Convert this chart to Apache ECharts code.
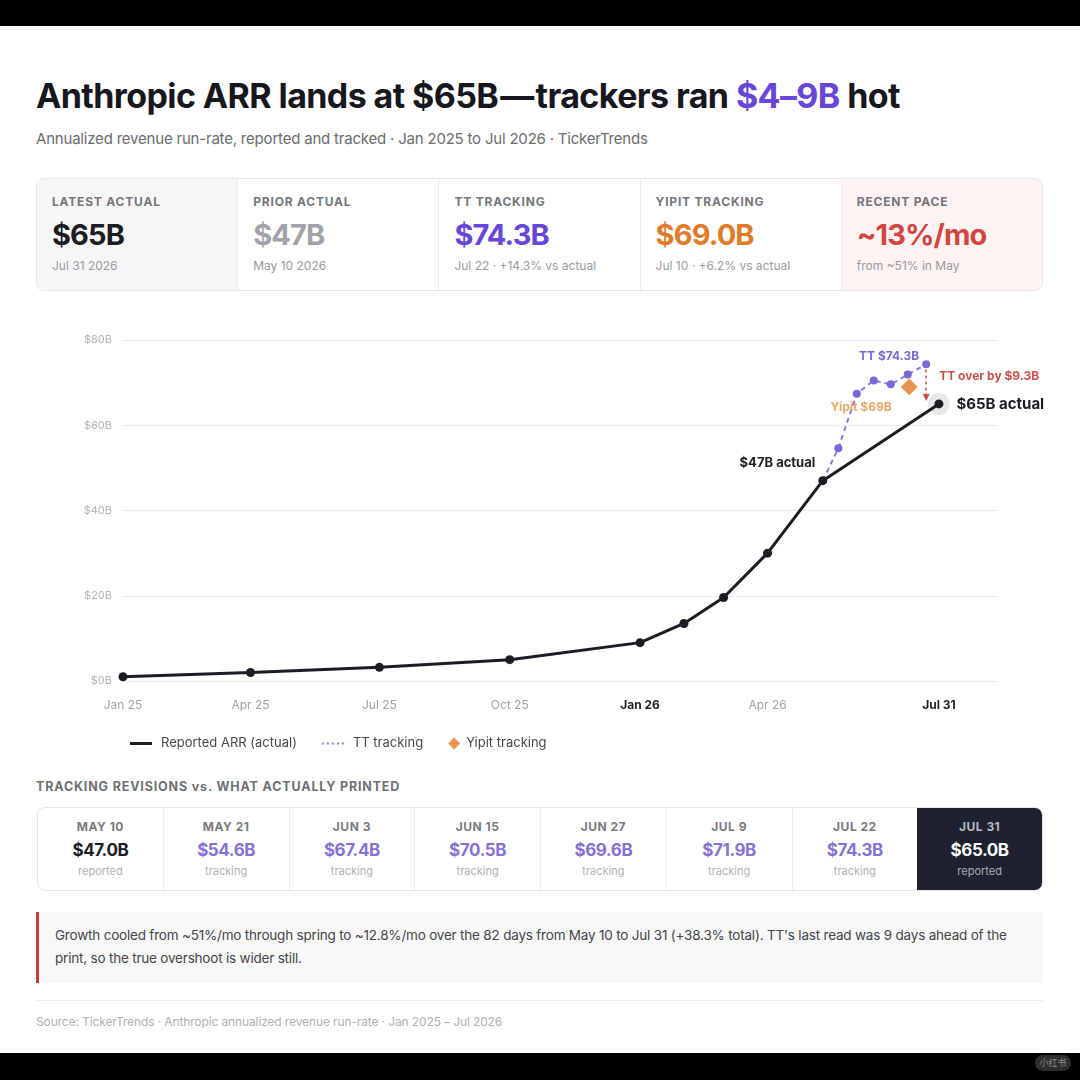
<!DOCTYPE html>
<html>
<head>
<meta charset="utf-8">
<script src="https://cdn.jsdelivr.net/npm/echarts@6/dist/echarts.min.js"></script>
<style>
  html, body { margin:0; padding:0; }
  body { width:1080px; height:1080px; background:#ffffff; position:relative; overflow:hidden;
         font-family: Inter, "Liberation Sans", "Noto Sans", sans-serif; color:#1c1c24; }
  .abs { position:absolute; }
  .bar-top { left:0; top:0; width:1080px; height:26px; background:#000; }
  .bar-bot { left:0; top:1053px; width:1080px; height:27px; background:#000; }
  .wm { left:1035px; top:1055px; width:36px; height:16px; border-radius:8px; background:#2e2e2e;
        color:#8a8a8a; font-size:9px; line-height:16px; text-align:center; font-family:"Noto Sans CJK SC", sans-serif; }
  .title { left:36px; top:76px; font-size:34px; line-height:40px; font-weight:700; letter-spacing:-0.6px; white-space:nowrap; color:#17171f; }
  .title .hl { color:#6647d8; }
  .subtitle { left:36px; top:129px; font-size:15px; line-height:20px; letter-spacing:-0.2px; color:#6b6b70; white-space:nowrap; }
  .kpis { left:36px; top:178px; width:1007px; height:113px; border:1px solid #e6e6e8; border-radius:8px;
          box-sizing:border-box; display:flex; overflow:hidden; }
  .kpi { flex:1; position:relative; border-left:1px solid #ececee; }
  .kpi:first-child { border-left:none; background:#f6f6f7; }
  .kpi:last-child { background:#fdf3f2; }
  .kpi .lab { position:absolute; left:15px; top:15px; font-size:12px; line-height:16px; font-weight:700; letter-spacing:0.8px; color:#76767c; white-space:nowrap; }
  .kpi .val { position:absolute; left:15px; top:39px; font-size:29px; line-height:34px; font-weight:700; letter-spacing:-0.9px; white-space:nowrap; }
  .kpi .sub { position:absolute; left:15px; top:79px; font-size:12px; line-height:16px; color:#9a9aa0; white-space:nowrap; }
  #chart { left:0; top:320px; width:1080px; height:450px; }
  .sect { left:36px; top:779px; font-size:12.5px; line-height:16px; font-weight:700; letter-spacing:0.85px; color:#6f6f74; white-space:nowrap; }
  .revs { left:37px; top:807px; width:1006px; height:84px; border:1px solid #e6e6e8; border-radius:8px;
          box-sizing:border-box; display:flex; overflow:hidden; }
  .rev { flex:1; position:relative; border-left:1px solid #ececee; text-align:center; }
  .rev:first-child { border-left:none; }
  .rev .d { position:absolute; left:0; right:0; top:11px; font-size:12px; line-height:16px; font-weight:700; letter-spacing:0.5px; color:#7a7a80; }
  .rev .v { position:absolute; left:0; right:0; top:31px; font-size:17px; line-height:22px; font-weight:700; letter-spacing:-0.4px; }
  .rev .k { position:absolute; left:0; right:0; top:56px; font-size:11px; line-height:14px; color:#b2b2b8; }
  .rev.dark { background:#1d2130; border-left:none; }
  .rev.dark .d { color:#b8bac2; }
  .rev.dark .v { color:#ffffff; }
  .rev.dark .k { color:#a9acb5; }
  .note { left:36px; top:912px; width:1007px; height:71px; background:#f8f8f9; border-left:3px solid #c2403a;
          box-sizing:border-box; padding:12px 0 0 16px; font-size:13.5px; line-height:23px; letter-spacing:-0.2px; color:#45454b; white-space:nowrap; }
  .divider { left:36px; top:1000px; width:1007px; height:1px; background:#ededef; }
  .foot { left:36px; top:1014px; font-size:12px; line-height:16px; letter-spacing:-0.12px; color:#b0b0b6; white-space:nowrap; }
</style>
</head>
<body>
<div class="abs bar-top"></div>
<div class="abs title">Anthropic ARR lands at $65B<span style="margin:0 2px">—</span>trackers ran <span class="hl">$4–9B</span> hot</div>
<div class="abs subtitle">Annualized revenue run-rate, reported and tracked · Jan 2025 to Jul 2026 · TickerTrends</div>
<div class="abs kpis" id="kpis"></div>
<div class="abs" id="chart"></div>
<div class="abs sect">TRACKING REVISIONS vs. WHAT ACTUALLY PRINTED</div>
<div class="abs revs" id="revs"></div>
<div class="abs note">Growth cooled from ~51%/mo through spring to ~12.8%/mo over the 82 days from May 10 to Jul 31 (+38.3% total). TT's last read was 9 days ahead of the<br>print, so the true overshoot is wider still.</div>
<div class="abs divider"></div>
<div class="abs foot">Source: TickerTrends · Anthropic annualized revenue run-rate · Jan 2025 – Jul 2026</div>
<div class="abs bar-bot"></div>
<div class="abs wm">小红书</div>

<script>
// ---------- data ----------
const actualDates  = ['2025-01-01','2025-04-01','2025-07-01','2025-10-01','2026-01-01','2026-02-01','2026-03-01','2026-04-01','2026-05-10','2026-07-31'];
const actualValues = [1.0, 2.0, 3.2, 5.0, 9.0, 13.5, 19.6, 30.0, 47.0, 65.0];

const ttDates  = ['2026-05-10','2026-05-21','2026-06-03','2026-06-15','2026-06-27','2026-07-09','2026-07-22'];
const ttValues = [47.0, 54.6, 67.4, 70.5, 69.6, 71.9, 74.3];

const yipitDates  = ['2026-07-10'];
const yipitValues = [69.0];

const xTickDates  = ['2025-01-01','2025-04-01','2025-07-01','2025-10-01','2026-01-01','2026-04-01','2026-07-31'];
const xTickLabels = ['Jan 25','Apr 25','Jul 25','Oct 25','Jan 26','Apr 26','Jul 31'];
const xBoldLabels = ['Jan 26','Jul 31'];
const xAxisStart = '2025-01-01';
const xAxisEnd   = '2026-09-10';
const yTicks = [0, 20, 40, 60, 80];

const kpiLabels = ['LATEST ACTUAL','PRIOR ACTUAL','TT TRACKING','YIPIT TRACKING','RECENT PACE'];
const kpiValues = ['$65B','$47B','$74.3B','$69.0B','~13%/mo'];
const kpiNotes  = ['Jul 31 2026','May 10 2026','Jul 22 · +14.3% vs actual','Jul 10 · +6.2% vs actual','from ~51% in May'];
const kpiColors = ['#1c1c24','#a2a2aa','#6647d8','#e07b2a','#d2463f'];

const revDates  = ['MAY 10','MAY 21','JUN 3','JUN 15','JUN 27','JUL 9','JUL 22','JUL 31'];
const revValues = [47.0, 54.6, 67.4, 70.5, 69.6, 71.9, 74.3, 65.0];
const revKinds  = ['reported','tracking','tracking','tracking','tracking','tracking','tracking','reported'];

// ---------- html parts ----------
const kpiBox = document.getElementById('kpis');
kpiLabels.forEach((l, i) => {
  const c = document.createElement('div');
  c.className = 'kpi';
  c.innerHTML = '<div class="lab">' + l + '</div><div class="val" style="color:' + kpiColors[i] + '">' + kpiValues[i] +
                '</div><div class="sub">' + kpiNotes[i] + '</div>';
  kpiBox.appendChild(c);
});
const revBox = document.getElementById('revs');
revDates.forEach((d, i) => {
  const c = document.createElement('div');
  const last = i === revDates.length - 1;
  c.className = 'rev' + (last ? ' dark' : '');
  const col = revKinds[i] === 'reported' ? '#1c1c24' : '#8672d4';
  c.innerHTML = '<div class="d">' + d + '</div><div class="v" style="' + (last ? '' : 'color:' + col) + '">$' +
                revValues[i].toFixed(1) + 'B</div><div class="k">' + revKinds[i] + '</div>';
  revBox.appendChild(c);
});

// ---------- chart ----------
const dayOf = s => (Date.parse(s + 'T00:00:00Z') - Date.parse(xAxisStart + 'T00:00:00Z')) / 864e5;
const xTickDays = xTickDates.map(dayOf);
const fmtB = v => '$' + v + 'B';

const actualN = actualValues.length;
const lastActual = actualValues[actualN - 1];
const lastTT = ttValues[ttValues.length - 1];
const lastTTDay = dayOf(ttDates[ttDates.length - 1]);

const actualData = actualDates.map((d, i) => {
  const item = { value: [dayOf(d), actualValues[i]] };
  if (d === '2026-05-10') {
    item.label = { show: true, position: 'left', offset: [2, -18], formatter: fmtB(actualValues[i]) + ' actual',
                   fontSize: 13, fontWeight: 700, color: '#222228' };
  }
  if (i === actualN - 1) {
    item.label = { show: true, position: 'right', offset: [8, 1], formatter: fmtB(actualValues[i]) + ' actual',
                   fontSize: 15, fontWeight: 700, color: '#1c1c24' };
  }
  return item;
});

const ttData = ttDates.map((d, i) => {
  const item = { value: [dayOf(d), ttValues[i]] };
  if (i === 0) item.symbol = 'none';
  if (i === ttDates.length - 1) {
    item.label = { show: true, position: 'top', offset: [-37, 7], formatter: 'TT ' + fmtB(ttValues[i]),
                   fontSize: 12, fontWeight: 700, color: '#7a68d8' };
  }
  return item;
});

const yipitData = yipitDates.map((d, i) => ({
  value: [dayOf(d), yipitValues[i]],
  label: { show: true, position: 'left', offset: [-4, 21], formatter: 'Yipit $' + yipitValues[i] + 'B',
           fontSize: 12, fontWeight: 700, color: '#e2923e' }
}));

const chart = echarts.init(document.getElementById('chart'), null, { renderer: 'canvas' });
chart.setOption({
  animation: false,
  textStyle: { fontFamily: 'Inter, "Liberation Sans", sans-serif' },
  grid: { left: 123, right: 83, top: 20, bottom: 89 },
  xAxis: {
    type: 'value', min: 0, max: dayOf(xAxisEnd),
    axisLine: { show: false }, axisTick: { show: false }, splitLine: { show: false },
    axisLabel: {
      customValues: xTickDays,
      margin: 18, fontSize: 12, color: '#a0a0a6',
      formatter: v => {
        const t = xTickLabels[xTickDays.indexOf(v)];
        if (t === undefined) return '';
        return xBoldLabels.includes(t) ? '{b|' + t + '}' : t;
      },
      rich: { b: { fontSize: 12, fontWeight: 700, color: '#222228' } }
    }
  },
  yAxis: {
    type: 'value', min: yTicks[0], max: yTicks[yTicks.length - 1], interval: yTicks[1] - yTicks[0],
    axisLine: { show: false }, axisTick: { show: false },
    splitLine: { lineStyle: { color: '#ececee', width: 1 } },
    axisLabel: { formatter: fmtB, color: '#b4b4ba', fontSize: 11, margin: 11 }
  },
  legend: {
    left: 130, top: 417, padding: 0, itemWidth: 22, itemHeight: 12, itemGap: 25, selectedMode: false,
    textStyle: { fontSize: 13, color: '#48484e', padding: [0, 0, 0, 4] },
    itemStyle: { borderWidth: 0 },
    data: [
      { name: 'Reported ARR (actual)', icon: 'path://M0,0h22v3h-22z', itemStyle: { color: '#1c1c24', borderWidth: 0 } },
      { name: 'TT tracking', icon: 'path://M0,0h2v2h-2zM5,0h2v2h-2zM10,0h2v2h-2zM15,0h2v2h-2zM20,0h2v2h-2z', itemStyle: { color: '#8c7ae0', borderWidth: 0 } },
      { name: 'Yipit tracking', icon: 'path://M6,0L12,6L6,12L0,6Z', itemStyle: { color: '#e07b2a', borderWidth: 0 },
        textStyle: { padding: [0, 0, 0, -4] } }
    ]
  },
  series: [
    {
      name: 'TT tracking', type: 'line', z: 2, data: ttData,
      symbol: 'circle', symbolSize: 8,
      lineStyle: { color: '#8c7ae0', width: 2, type: [5, 4] },
      itemStyle: { color: '#7b66dc' },
      markLine: {
        silent: true, symbol: ['none', 'triangle'], symbolSize: [7, 7],
        lineStyle: { color: '#c9504a', type: [3, 3], width: 1.5 },
        label: { show: false },
        data: [[ { coord: [lastTTDay, lastTT - 1.2] }, { coord: [lastTTDay, lastActual + 1.5] } ]]
      },
      markPoint: {
        silent: true,
        data: [{ coord: [lastTTDay, (lastTT + lastActual) / 2 + 1.8], symbol: 'circle', symbolSize: 0,
                 label: { show: true, position: 'right', offset: [8, 0],
                          formatter: 'TT over by $' + (lastTT - lastActual).toFixed(1) + 'B',
                          fontSize: 12, fontWeight: 700, color: '#cf4f48' } }]
      }
    },
    {
      name: 'Yipit tracking', type: 'scatter', z: 3, data: yipitData,
      symbol: 'rect', symbolRotate: 45, symbolSize: 12,
      itemStyle: { color: '#e07b2a' }
    },
    {
      name: 'halo', type: 'scatter', z: 3, silent: true,
      data: [[dayOf(actualDates[actualN - 1]), lastActual]],
      symbol: 'circle', symbolSize: 22, itemStyle: { color: '#e2e2e5' }
    },
    {
      name: 'Reported ARR (actual)', type: 'line', z: 4, data: actualData,
      symbol: 'circle', symbolSize: 9,
      lineStyle: { color: '#1c1c24', width: 3 },
      itemStyle: { color: '#1c1c24' }
    }
  ]
});
</script>
</body>
</html>
